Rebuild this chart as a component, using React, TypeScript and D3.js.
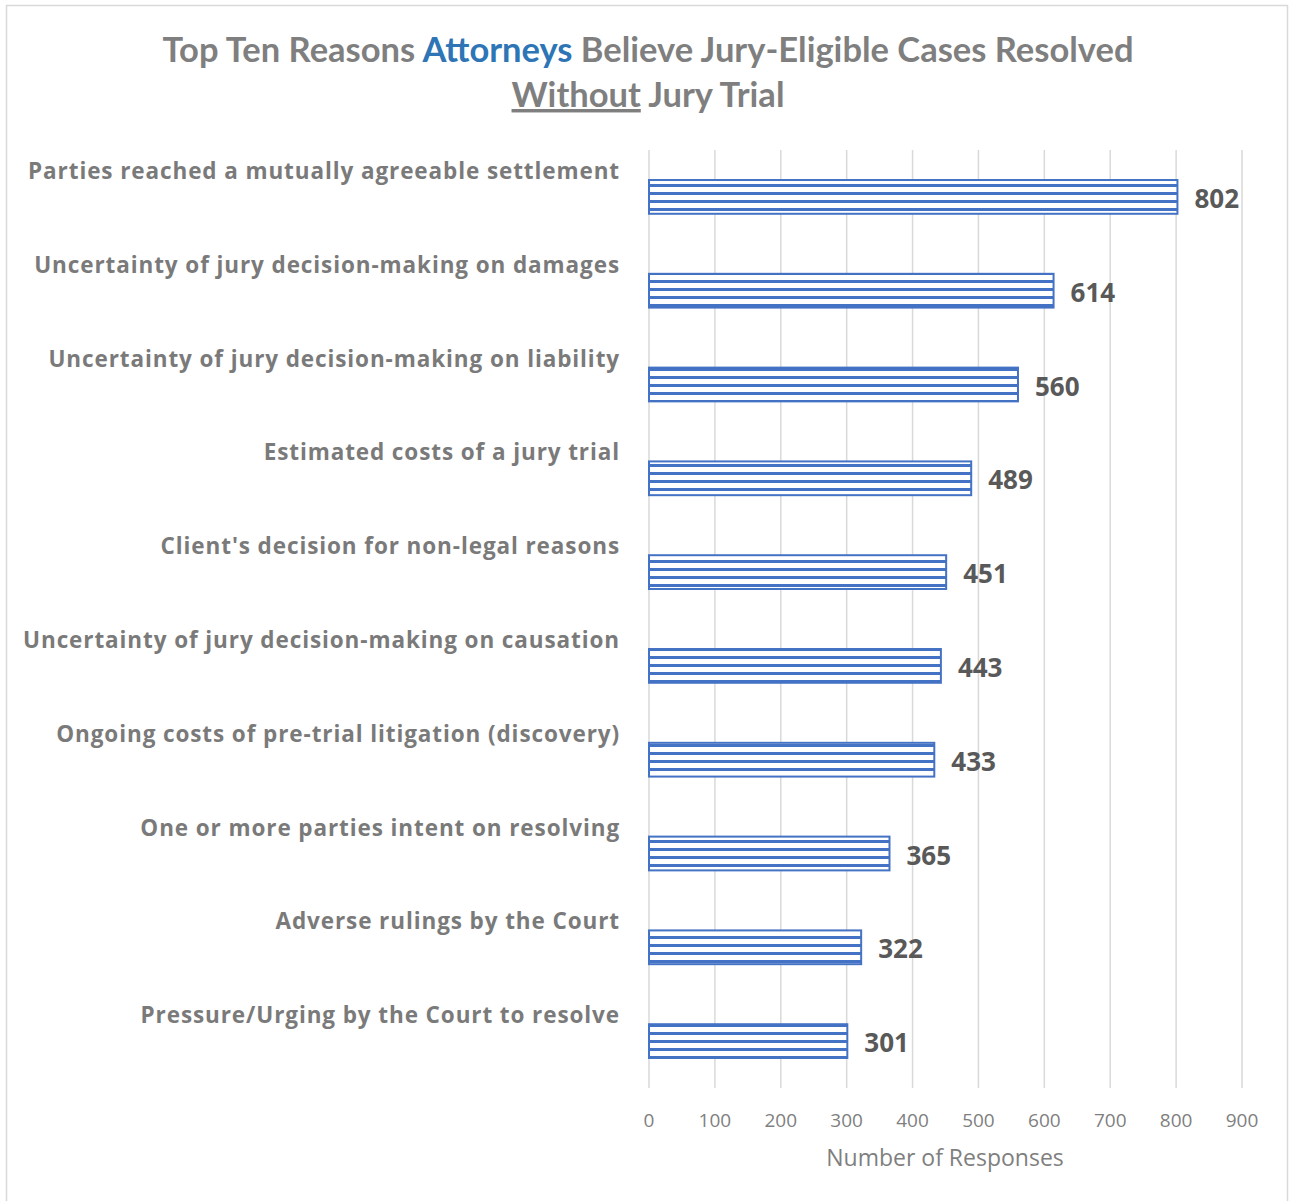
import React from "react";
import * as d3 from "d3";

const categories = [
  "Parties reached a mutually agreeable settlement",
  "Uncertainty of jury decision-making on damages",
  "Uncertainty of jury decision-making on liability",
  "Estimated costs of a jury trial",
  "Client's decision for non-legal reasons",
  "Uncertainty of jury decision-making on causation",
  "Ongoing costs of pre-trial litigation (discovery)",
  "One or more parties intent on resolving",
  "Adverse rulings by the Court",
  "Pressure/Urging by the Court to resolve",
];
const values = [802, 614, 560, 489, 451, 443, 433, 365, 322, 301];
const ticks = [0, 100, 200, 300, 400, 500, 600, 700, 800, 900];

const W = 1289;
const H = 1201;
const plot = { left: 649, right: 1242, top: 150, bottom: 1088 };
const TITLE_FONT = "Lato, 'Open Sans', sans-serif";
const FONT = "'Open Sans', Lato, sans-serif";

export default function App() {
  const x = d3.scaleLinear().domain([0, 900]).range([plot.left, plot.right]);
  const y = d3
    .scaleBand<string>()
    .domain(categories)
    .range([plot.top, plot.bottom])
    .paddingInner(0.64)
    .paddingOuter(0.32);
  const bh = y.bandwidth();

  return (
    <svg
      width={W}
      height={H}
      style={{ position: "absolute", left: 0, top: 0, background: "#fff" }}
    >
      <defs>
        <pattern id="stripes" patternUnits="userSpaceOnUse" width={8} height={8} y={0}>
          <rect width={8} height={8} fill="#ffffff" />
          <rect y={0} width={8} height={3} fill="#4472C4" />
        </pattern>
      </defs>
      <rect x={6.5} y={5.5} width={1281} height={1200} fill="#fff" stroke="#d9d9d9" strokeWidth={1.5} />

      <text x={648} y={62} textAnchor="middle" fontFamily={TITLE_FONT} fontWeight={700} fontSize={34.5} fill="#7f7f7f">
        Top Ten Reasons <tspan fill="#2e75b6">Attorneys</tspan> Believe Jury-Eligible Cases Resolved
      </text>
      <text x={648} y={107} textAnchor="middle" fontFamily={TITLE_FONT} fontWeight={700} fontSize={34.5} fill="#7f7f7f">
        <tspan textDecoration="underline">Without</tspan> Jury Trial
      </text>

      {ticks.map((t) => (
        <g key={t}>
          <line x1={x(t)} x2={x(t)} y1={plot.top} y2={plot.bottom} stroke="#d9d9d9" strokeWidth={1.5} />
          <text x={x(t)} y={1127} textAnchor="middle" fontFamily={FONT} fontSize={19} fill="#7f7f7f">
            {t}
          </text>
        </g>
      ))}
      <text x={945} y={1166} textAnchor="middle" fontFamily={FONT} fontSize={23} fill="#7f7f7f">
        Number of Responses
      </text>

      {categories.map((c, i) => {
        const yy = y(c)!;
        const v = values[i];
        return (
          <g key={c}>
            <rect
              x={x(0)}
              y={yy}
              width={x(v) - x(0)}
              height={bh}
              fill="url(#stripes)"
              stroke="#4472C4"
              strokeWidth={2}
            />
            <text
              x={x(v) + 17}
              y={yy + bh / 2 + 11}
              fontFamily={FONT}
              fontWeight={700}
              fontSize={26}
              fill="#595959"
            >
              {v}
            </text>
            <text
              x={620}
              y={yy - 1}
              textAnchor="end"
              fontFamily={FONT}
              fontWeight={700}
              fontSize={22.5}
              letterSpacing={0.9}
              fill="#7a7a7a"
            >
              {c}
            </text>
          </g>
        );
      })}
    </svg>
  );
}
